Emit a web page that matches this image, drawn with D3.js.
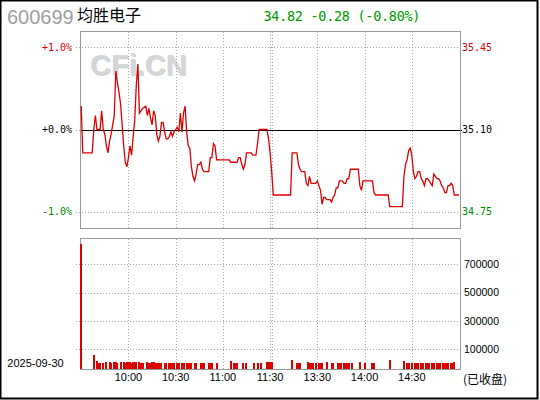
<!DOCTYPE html>
<html><head><meta charset="utf-8">
<script src="https://cdn.jsdelivr.net/npm/d3@7"></script>
<style>html,body{margin:0;padding:0;background:#fff;}svg{display:block;}</style>
</head><body>
<svg id="c" width="540" height="400"></svg>
<script>
// ---- data ----
const stockCode = "600699";
const stockName = "均胜电子";
const quoteText = "34.82 -0.28 (-0.80%)";
const dateLabel = "2025-09-30";
const statusLabel = "(已收盘)";
const watermark = "CFi.CN";
const prevClose = 35.10;
const pctTicks = [1, 0, -1];
const pctLabels = ["+1.0%", "+0.0%", "-1.0%"];
const priceLabels = ["35.45", "35.10", "34.75"];
const gridMinutes = [30, 60, 90, 120, 121, 150, 180, 210];
const timeLabelMinutes = [30, 60, 90, 120, 150, 180, 210];
const timeLabels = ["10:00", "10:30", "11:00", "11:30", "13:30", "14:00", "14:30"];
const volTicks = [100000, 300000, 500000, 700000];
const volTickLabels = ["100000", "300000", "500000", "700000"];

// trading-minute index (0 = 9:30, 120 = 11:30, 121 = 13:00, 241 = 15:00)
const priceMinute = [0,1,7,8,9,10,12,13,14,15,16,17,18,19,20,21,22,23,24,25,26,27,28,29,30,31,32,33,34,35,36,37,38,39,41,42,43,44,45,46,47,48,49,50,51,52,53,54,55,56,57,58,59,60,61,62,63,64,65,66,67,68,69,70,71,72,73,74,75,76,77,78,81,82,83,84,85,86,94,95,99,100,101,102,103,104,105,108,109,111,112,113,118,119,120,121,122,
133,134,137,138,139,140,142,143,144,145,146,149,150,151,152,153,154,155,156,158,159,160,161,162,163,164,166,167,168,169,170,171,176,177,178,179,185,186,187,195,196,204,205,206,207,208,209,210,211,212,213,214,215,216,217,218,219,220,221,222,223,224,225,226,227,228,229,230,231,232,233,234,235,236,237,240];
const priceValue = [35.20,35.00,35.00,35.10,35.16,35.10,35.10,35.18,35.10,35.08,35.03,35.00,35.05,35.08,35.12,35.16,35.35,35.30,35.26,35.21,35.12,35.03,34.96,34.94,34.98,35.03,34.99,35.07,35.14,35.29,35.38,35.17,35.18,35.19,35.20,35.16,35.19,35.15,35.12,35.18,35.16,35.08,35.05,35.07,35.13,35.13,35.09,35.06,35.06,35.07,35.09,35.07,35.09,35.10,35.11,35.09,35.17,35.09,35.17,35.20,35.09,35.03,35.02,34.94,34.90,34.88,34.91,34.95,34.95,34.96,34.93,34.92,34.92,34.98,34.98,35.04,35.03,34.97,34.97,34.96,34.96,34.98,34.98,34.95,34.93,34.95,35.00,35.00,34.99,34.99,35.04,35.10,35.10,35.06,35.00,34.92,34.82,
34.82,35.00,35.00,34.95,34.93,34.92,34.92,34.87,34.86,34.90,34.87,34.87,34.88,34.86,34.84,34.78,34.81,34.81,34.80,34.80,34.79,34.81,34.82,34.85,34.85,34.88,34.88,34.87,34.87,34.89,34.89,34.93,34.93,34.86,34.84,34.88,34.88,34.83,34.82,34.82,34.77,34.77,34.90,34.95,34.97,35.01,35.02,34.99,34.92,34.89,34.90,34.92,34.92,34.89,34.88,34.86,34.89,34.89,34.88,34.87,34.86,34.91,34.90,34.89,34.89,34.88,34.86,34.85,34.83,34.83,34.86,34.86,34.87,34.86,34.82,34.82];

const volMinute = [0,8,10,11,12,14,16,18,19,21,22,23,25,27,28,29,30,31,32,33,34,35,37,38,39,42,43,44,45,46,47,48,49,50,51,53,54,56,57,58,59,61,62,64,65,67,68,69,70,72,73,76,77,78,81,82,83,86,95,97,98,99,103,105,110,112,114,118,119,120,121,134,137,138,139,144,145,146,147,149,151,152,153,156,159,160,163,164,165,167,168,169,170,172,177,180,185,186,196,205,207,208,210,212,213,214,216,217,219,220,221,223,224,226,227,228,230,231,232,233,235,236,237];
const volValue = [843000,57000,15000,3000,3000,3000,8000,8000,3000,8000,8000,3000,8000,8000,3000,8000,8000,8000,3000,8000,8000,8000,8000,3000,3000,8000,3000,3000,8000,8000,3000,3000,3000,3000,3000,3000,3000,3000,3000,3000,3000,3000,3000,3000,3000,3000,3000,3000,3000,3000,3000,3000,3000,3000,3000,3000,3000,3000,15000,3000,3000,3000,3000,3000,3000,3000,3000,8000,8000,8000,8000,22000,3000,3000,3000,8000,3000,3000,3000,3000,3000,3000,3000,8000,3000,3000,3000,3000,3000,3000,3000,3000,3000,3000,8000,3000,3000,3000,22000,15000,3000,3000,3000,3000,3000,3000,3000,3000,3000,3000,3000,3000,3000,3000,3000,3000,3000,3000,3000,3000,3000,3000,8000];

// ---- layout ----
const L = 80.5, R = 460.5;
const pTop = 31.5, pBot = 228.5;
const vTop = 238.5, vBot = 369.5;
const RED = "#dd0000", GREEN = "#008800", GRID = "#a8a8a8", FRAME = "#999999";
const monoFont = "'DejaVu Sans Mono', monospace";
const sansFont = "'Liberation Sans', Arial, sans-serif";

const svg = d3.select("#c");
svg.append("rect").attr("width", 540).attr("height", 400).attr("fill", "#fff");

const x = d3.scaleLinear().domain([0, 241]).range([81.2, 460.6]);
const yPct = d3.scaleLinear().domain([-1.2, 1.2]).range([228, 31]);
const yP = p => yPct((p / prevClose - 1) * 100);
const yVol = d3.scaleLinear().domain([0, 700000]).range([363.1, 264.3]);

const crisp = v => Math.round(v) + 0.5;

// watermark
svg.append("text").attr("x", 91).attr("y", 76).text(watermark)
  .attr("font-family", sansFont).attr("font-weight", "bold").attr("font-size", 29)
  .attr("fill", "#c9d6e3");
svg.append("text").attr("x", 90).attr("y", 75).text(watermark)
  .attr("font-family", sansFont).attr("font-weight", "bold").attr("font-size", 29)
  .attr("fill", "#d6d6d6");

// vertical grid lines
const gv = svg.append("g").attr("stroke", GRID).attr("stroke-dasharray", "1,2").attr("shape-rendering", "crispEdges");
gridMinutes.forEach(m => {
  const gx = crisp(x(m));
  gv.append("line").attr("x1", gx).attr("x2", gx).attr("y1", pTop).attr("y2", pBot);
  gv.append("line").attr("x1", gx).attr("x2", gx).attr("y1", vTop).attr("y2", vBot);
});

// horizontal price grid
pctTicks.forEach((t, k) => {
  const gy = crisp(yPct(t));
  gv.append("line").attr("x1", 76).attr("x2", t === 0 ? L : R).attr("y1", gy).attr("y2", gy);
});
// zero line
svg.append("line").attr("x1", L).attr("x2", R + 1).attr("y1", crisp(yPct(0))).attr("y2", crisp(yPct(0)))
  .attr("stroke", "#000").attr("stroke-width", 1).attr("shape-rendering", "crispEdges");

// volume grid
volTicks.forEach(t => {
  const gy = crisp(yVol(t));
  gv.append("line").attr("x1", 76).attr("x2", R).attr("y1", gy).attr("y2", gy);
});

// panel frames
svg.append("rect").attr("x", L).attr("y", pTop).attr("width", R - L).attr("height", pBot - pTop)
  .attr("fill", "none").attr("stroke", FRAME).attr("shape-rendering", "crispEdges");
svg.append("rect").attr("x", L).attr("y", vTop).attr("width", R - L).attr("height", vBot - vTop)
  .attr("fill", "none").attr("stroke", FRAME).attr("shape-rendering", "crispEdges");

// price line
const priceData = d3.zip(priceMinute, priceValue);
svg.append("path").datum(priceData)
  .attr("d", d3.line().x(d => x(d[0])).y(d => yP(d[1])))
  .attr("fill", "none").attr("stroke", RED).attr("stroke-width", 1.3).attr("stroke-linejoin", "miter");

// volume bars
const volData = d3.zip(volMinute, volValue);
svg.append("g").selectAll("rect").data(volData).join("rect")
  .attr("x", d => Math.round(x(d[0])) - 1)
  .attr("width", 2)
  .attr("y", d => Math.round(Math.max(vTop + 1, yVol(d[1]))))
  .attr("height", d => 369 - Math.round(Math.max(vTop + 1, yVol(d[1]))))
  .attr("fill", RED).attr("shape-rendering", "crispEdges");

// left pct labels
const pctColors = [RED, "#000", GREEN];
pctTicks.forEach((t, k) => {
  svg.append("text").attr("x", 72).attr("y", yPct(t) + 3.8).attr("text-anchor", "end")
    .attr("font-family", monoFont).attr("font-size", 10).attr("fill", pctColors[k]).text(pctLabels[k]);
  svg.append("text").attr("x", 462).attr("y", yPct(t) + 3.8)
    .attr("font-family", monoFont).attr("font-size", 10).attr("fill", pctColors[k]).text(priceLabels[k]);
});

// volume labels
volTicks.forEach((t, k) => {
  svg.append("text").attr("x", 464).attr("y", yVol(t) + 3.8)
    .attr("font-family", sansFont).attr("font-size", 10.5).attr("fill", "#000").text(volTickLabels[k]);
});

// time labels
timeLabelMinutes.forEach((m, k) => {
  svg.append("text").attr("x", x(m)).attr("y", 381).attr("text-anchor", "middle")
    .attr("font-family", sansFont).attr("font-size", 11).attr("fill", "#000").text(timeLabels[k]);
});

// date and status
svg.append("text").attr("x", 35.5).attr("y", 367).attr("text-anchor", "middle")
  .attr("font-family", sansFont).attr("font-size", 11).attr("fill", "#000").text(dateLabel);
svg.append("text").attr("x", 463).attr("y", 384)
  .attr("font-family", "'Noto Sans CJK SC', sans-serif").attr("font-size", 12).attr("fill", "#000").text(statusLabel);

// title
svg.append("text").attr("x", 7).attr("y", 24)
  .attr("font-family", sansFont).attr("font-size", 20).attr("fill", "#a0a0a0").text(stockCode);
svg.append("text").attr("x", 77).attr("y", 21)
  .attr("font-family", "'Noto Sans CJK SC', sans-serif").attr("font-size", 16).attr("fill", "#000").text(stockName);
svg.append("text").attr("x", 263.5).attr("y", 20.7)
  .attr("font-family", monoFont).attr("font-size", 13.5).attr("fill", "#009900")
  .attr("textLength", 157).attr("lengthAdjust", "spacing").text(quoteText);

// outer frame
svg.append("rect").attr("x", 0.5).attr("y", 0.5).attr("width", 537).attr("height", 398)
  .attr("fill", "none").attr("stroke", "#000").attr("stroke-width", 2);
</script>
</body></html>
